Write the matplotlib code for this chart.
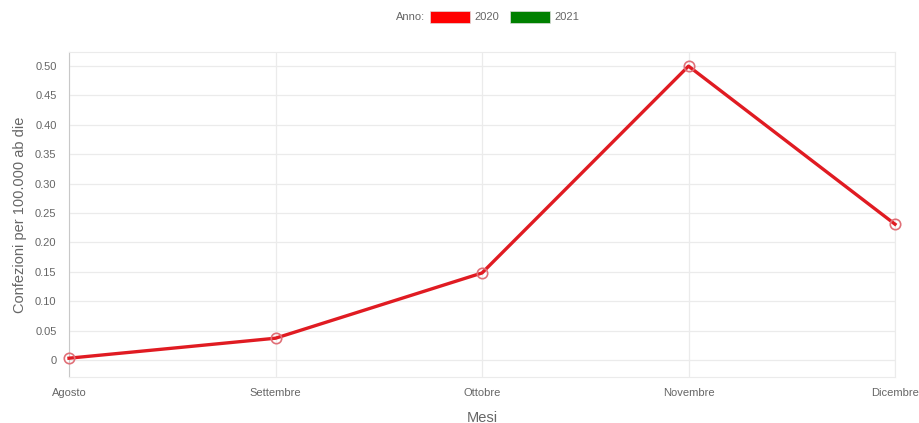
import matplotlib
matplotlib.use("Agg")
from matplotlib import pyplot as plt
from matplotlib.patches import Rectangle

mesi = ["Agosto", "Settembre", "Ottobre", "Novembre", "Dicembre"]
valori_2020 = [0.003, 0.037, 0.148, 0.500, 0.231]
anni = ["2020", "2021"]
colori_anni = ["#ff0000", "#008000"]
y_ticks = [0, 0.05, 0.10, 0.15, 0.20, 0.25, 0.30, 0.35, 0.40, 0.45, 0.50]
y_tick_labels = ["0", "0.05", "0.10", "0.15", "0.20", "0.25", "0.30",
                 "0.35", "0.40", "0.45", "0.50"]

plt.rcParams['font.family'] = ['Liberation Sans', 'DejaVu Sans']
grey = "#666666"

fig = plt.figure(figsize=(9.19, 4.23), dpi=100)
ax = fig.add_axes([69 / 919, 46 / 423, 826 / 919, 325 / 423])

x = list(range(len(mesi)))
ax.plot(x, valori_2020, color="#e01b22", lw=2.4, zorder=3,
        marker="o", ms=7.5, mfc="none", mec="#e07078", mew=1.2, clip_on=False)

ax.set_xlim(0, len(mesi) - 1)
ax.set_ylim(-0.029, 0.524)
ax.set_xticks(x)
ax.set_xticklabels(mesi)
ax.set_yticks(y_ticks)
ax.set_yticklabels(y_tick_labels)
ax.tick_params(length=0, labelsize=8, colors=grey)
ax.tick_params(axis="y", pad=9)
ax.tick_params(axis="x", pad=8)

ax.grid(True, color="#ebebeb", lw=0.9)
ax.set_axisbelow(True)
for side in ["top", "right", "bottom"]:
    ax.spines[side].set_color("#ebebeb")
ax.spines["left"].set_color("#c8c8c8")

ax.set_xlabel("Mesi", fontsize=10.5, color=grey, labelpad=9)
ax.set_ylabel("Confezioni per 100.000 ab die", fontsize=10.5, color=grey,
              labelpad=6)

# legenda in alto
fig.text(425 / 919, 1 - 17 / 423, "Anno:", fontsize=8, color=grey,
         ha="right", va="center")
pos = 430
for anno, col in zip(anni, colori_anni):
    fig.patches.append(Rectangle((pos / 919, 1 - 23 / 423), 40 / 919, 12 / 423,
                                 transform=fig.transFigure, facecolor=col,
                                 edgecolor="#dddddd", lw=0.5))
    fig.text((pos + 44) / 919, 1 - 17 / 423, anno, fontsize=8, color=grey,
             ha="left", va="center")
    pos += 80

fig.savefig("out.png", dpi=100)
